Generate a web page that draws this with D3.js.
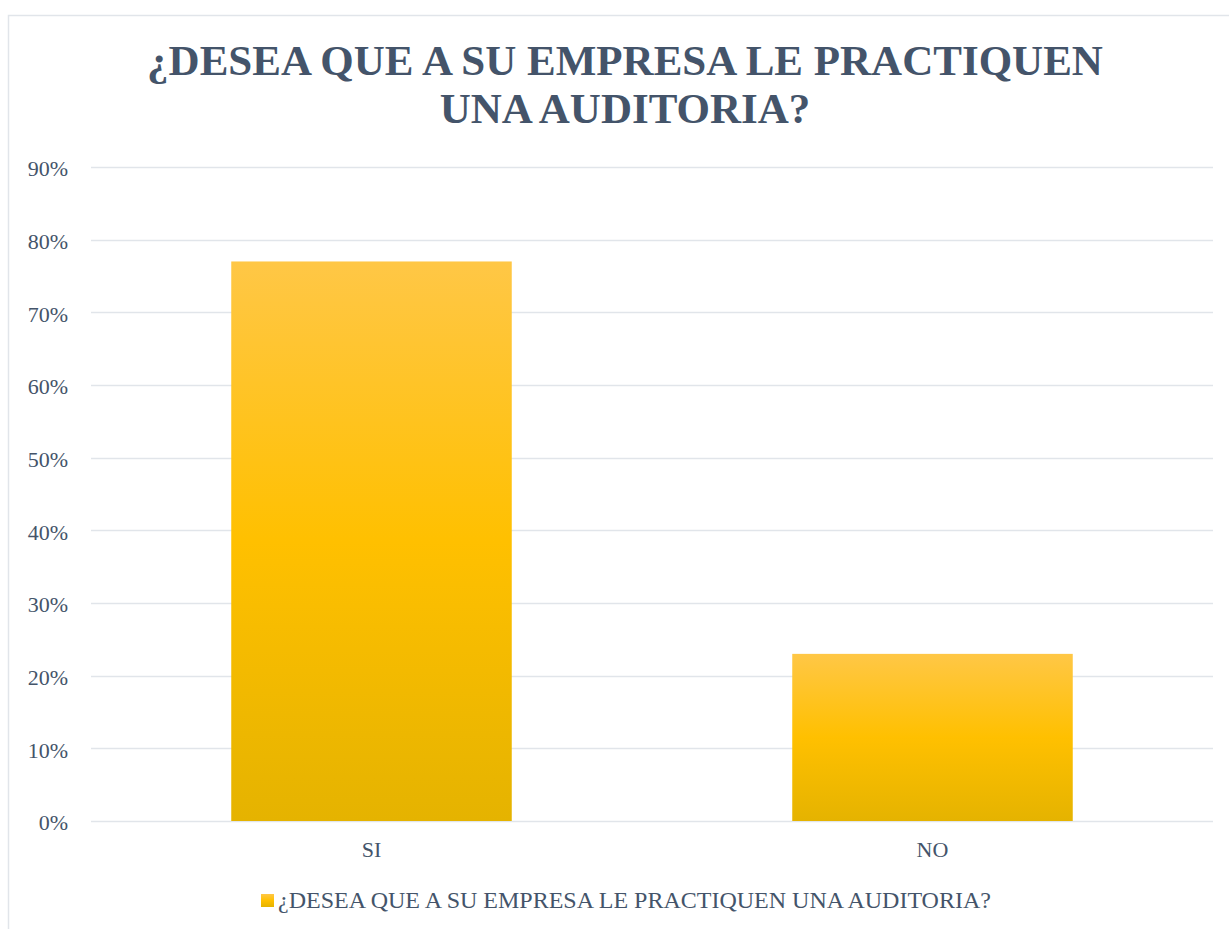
<!DOCTYPE html>
<html>
<head>
<meta charset="utf-8">
<script src="https://cdn.jsdelivr.net/npm/d3@7"></script>
<style>
  body { margin: 0; background: #fff; }
</style>
</head>
<body>
<svg id="chart"></svg>
<script>
// data
var categories = ["SI", "NO"];
var values = [0.77, 0.23];
var yTicks = [0, 0.1, 0.2, 0.3, 0.4, 0.5, 0.6, 0.7, 0.8, 0.9];
var titleLines = ["¿DESEA QUE A SU EMPRESA LE PRACTIQUEN", "UNA AUDITORIA?"];
var legendLabel = "¿DESEA QUE A SU EMPRESA LE PRACTIQUEN UNA AUDITORIA?";

var size = { width: 1229, height: 929 };
var margin = { left: 91, right: 16, top: 167, bottom: 108 };
var textColor = "#44546A";
var serifFont = "Liberation Serif";

var svg = d3.select("#chart")
  .attr("width", size.width)
  .attr("height", size.height);

// gradient for bars
var defs = svg.append("defs");
var grad = defs.append("linearGradient")
  .attr("id", "barGrad")
  .attr("x1", 0).attr("y1", 0).attr("x2", 0).attr("y2", 1);
grad.append("stop").attr("offset", "0%").attr("stop-color", "#FFC746");
grad.append("stop").attr("offset", "50%").attr("stop-color", "#FFC000");
grad.append("stop").attr("offset", "100%").attr("stop-color", "#E5B300");

// chart border
svg.append("rect")
  .attr("x", 8.5).attr("y", 15.5)
  .attr("width", 1240).attr("height", 940)
  .attr("fill", "none")
  .attr("stroke", "#E1E5EA")
  .attr("stroke-width", 1.5);

var xScale = d3.scaleBand()
  .domain(categories)
  .range([margin.left, size.width - margin.right])
  .paddingInner(0.5)
  .paddingOuter(0.25);

var yScale = d3.scaleLinear()
  .domain([0, 0.9])
  .range([size.height - margin.bottom, margin.top]);

// gridlines
svg.append("g")
  .selectAll("line")
  .data(yTicks)
  .enter()
  .append("line")
  .attr("x1", margin.left)
  .attr("x2", size.width - margin.right)
  .attr("y1", function(d) { return Math.round(yScale(d)) + 0.5; })
  .attr("y2", function(d) { return Math.round(yScale(d)) + 0.5; })
  .attr("stroke", "#E1E5EA")
  .attr("stroke-width", 1.5);

// y axis labels
var yAxis = d3.axisLeft(yScale)
  .tickValues(yTicks)
  .tickFormat(d3.format(".0%"))
  .tickSize(0)
  .tickPadding(23);
var yg = svg.append("g")
  .attr("transform", "translate(" + margin.left + ",0)")
  .call(yAxis);
yg.select(".domain").remove();
yg.attr("font-family", null);
yg.selectAll("text")
  .attr("fill", textColor)
  .attr("dy", "0.4em")
  .style("font-size", "22px")
  .style("font-family", serifFont);

// bars
svg.append("g")
  .selectAll("rect")
  .data(values)
  .enter()
  .append("rect")
  .attr("x", function(d, i) { return xScale(categories[i]); })
  .attr("y", function(d) { return yScale(d); })
  .attr("width", xScale.bandwidth())
  .attr("height", function(d) { return yScale(0) - yScale(d); })
  .attr("fill", "url(#barGrad)");

// x axis labels
var xAxis = d3.axisBottom(xScale).tickSize(0).tickPadding(20);
var xg = svg.append("g")
  .attr("transform", "translate(0," + yScale(0) + ")")
  .call(xAxis);
xg.select(".domain").remove();
xg.attr("font-family", null);
xg.selectAll("text")
  .attr("fill", textColor)
  .style("font-size", "22px")
  .style("font-family", serifFont);

// title
svg.append("g")
  .selectAll("text")
  .data(titleLines)
  .enter()
  .append("text")
  .attr("x", 625)
  .attr("y", function(d, i) { return 75 + i * 48; })
  .attr("text-anchor", "middle")
  .attr("fill", textColor)
  .style("font-family", serifFont)
  .style("font-size", "43px")
  .style("font-weight", "bold")
  .text(function(d) { return d; });

// legend
var legend = svg.append("g").attr("transform", "translate(261,894)");
legend.append("rect")
  .attr("x", 0).attr("y", 0)
  .attr("width", 13).attr("height", 13)
  .attr("fill", "url(#barGrad)");
legend.append("text")
  .attr("x", 17).attr("y", 14)
  .attr("fill", textColor)
  .style("font-family", serifFont)
  .style("font-size", "24px")
  .text(legendLabel);
</script>
</body>
</html>
